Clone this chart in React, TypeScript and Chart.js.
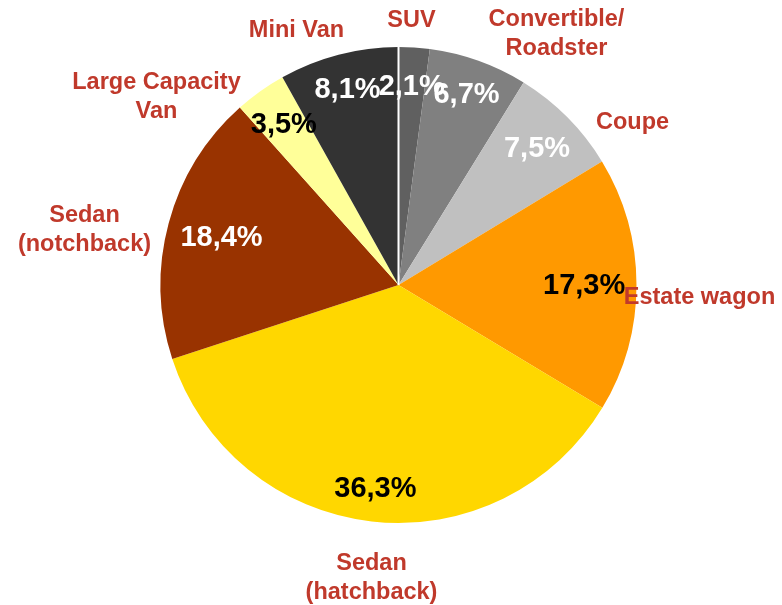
import React, { useEffect, useRef } from "react";
import { Chart, registerables } from "chart.js";

Chart.register(...registerables);

const categories = [
  ["SUV"],
  ["Convertible/", "Roadster"],
  ["Coupe"],
  ["Estate wagon"],
  ["Sedan", "(hatchback)"],
  ["Sedan", "(notchback)"],
  ["Large Capacity", "Van"],
  ["Mini Van"],
];
const values = [2.1, 6.7, 7.5, 17.3, 36.3, 18.4, 3.5, 8.1];
const percentLabels = ["2,1%", "6,7%", "7,5%", "17,3%", "36,3%", "18,4%", "3,5%", "8,1%"];
const colors = ["#606060", "#808080", "#C0C0C0", "#FF9900", "#FFD700", "#993300", "#FFFF99", "#333333"];
const percentColors = ["#FFFFFF", "#FFFFFF", "#FFFFFF", "#000000", "#000000", "#FFFFFF", "#000000", "#FFFFFF"];
// label layout (radius fraction for percent label; offset from centre for category label)
const percentRadius = [0.84, 0.85, 0.82, 0.78, 0.86, 0.77, 0.83, 0.85];
const categoryOffsets = [
  [13, -264],
  [158, -251],
  [234, -162],
  [301, 13],
  [-27, 293],
  [-314, -55],
  [-242, -188],
  [-102, -254],
];

const labelPlugin = {
  id: "pieLabels",
  afterDatasetsDraw(chart: any) {
    const ctx = chart.ctx;
    const meta = chart.getDatasetMeta(0);
    const arcs = meta.data;
    if (!arcs.length) return;
    const cx = arcs[0].x;
    const cy = arcs[0].y;
    const R = arcs[0].outerRadius;
    ctx.save();
    ctx.strokeStyle = "#FFFFFF";
    ctx.lineWidth = 2;
    ctx.beginPath();
    ctx.moveTo(cx, cy);
    ctx.lineTo(cx, cy - R);
    ctx.stroke();

    ctx.textAlign = "center";
    ctx.textBaseline = "middle";
    arcs.forEach((arc: any, i: number) => {
      const mid = (arc.startAngle + arc.endAngle) / 2;
      const r = R * percentRadius[i];
      ctx.font = "bold 29px 'Liberation Sans', Arial, sans-serif";
      ctx.fillStyle = percentColors[i];
      ctx.fillText(percentLabels[i], cx + Math.cos(mid) * r, cy + Math.sin(mid) * r + 1);
    });
    arcs.forEach((arc: any, i: number) => {
      const lines = categories[i];
      const [dx, dy] = categoryOffsets[i];
      ctx.font = "bold 23.5px 'Liberation Sans', Arial, sans-serif";
      ctx.fillStyle = "#C0392B";
      const lh = 28.5;
      const y0 = cy + dy - ((lines.length - 1) * lh) / 2;
      lines.forEach((ln: string, k: number) => {
        ctx.fillText(ln, cx + dx, y0 + k * lh);
      });
    });
    ctx.restore();
  },
};

export default function App() {
  const ref = useRef<HTMLCanvasElement>(null);
  useEffect(() => {
    document.body.style.margin = "0";
    const chart = new Chart(ref.current!, {
      type: "pie",
      data: {
        labels: categories.map((c) => c.join(" ")),
        datasets: [
          {
            data: values,
            backgroundColor: colors,
            borderWidth: 0,
          },
        ],
      },
      options: {
        animation: false,
        responsive: false,
        layout: { padding: { left: 160, right: 145, top: 47, bottom: 82 } },
        plugins: { legend: { display: false }, tooltip: { enabled: false } },
      },
      plugins: [labelPlugin],
    });
    return () => chart.destroy();
  }, []);
  return (
    <div style={{ width: 782, height: 605 }}>
      <canvas ref={ref} width={782} height={605} style={{ display: "block" }} />
    </div>
  );
}
